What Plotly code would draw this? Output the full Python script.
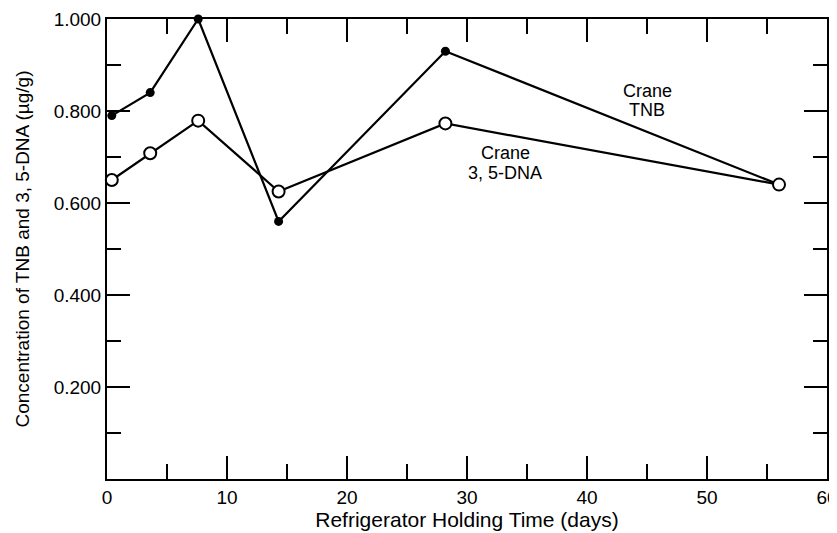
import plotly.graph_objects as go

days = [0.4, 3.6, 7.6, 14.3, 28.2, 56.0]
tnb = [0.79, 0.84, 1.0, 0.56, 0.93, 0.64]
dna = [0.65, 0.708, 0.779, 0.625, 0.773, 0.64]

x_ticks = [0, 10, 20, 30, 40, 50, 60]
y_ticks = [0.2, 0.4, 0.6, 0.8, 1.0]
y_labels = ["0.200", "0.400", "0.600", "0.800", "1.000"]

FONT = "Liberation Sans, Arial, Helvetica, sans-serif"
PAGE_OFFSET = 8  # default body margin of the html page

fig = go.Figure()
fig.add_trace(go.Scatter(
    x=days, y=tnb, mode="lines+markers", name="Crane TNB",
    line=dict(color="black", width=2.2),
    marker=dict(symbol="circle", size=9, color="black"),
    cliponaxis=False,
))
fig.add_trace(go.Scatter(
    x=days, y=dna, mode="lines+markers", name="Crane 3, 5-DNA",
    line=dict(color="black", width=2.2),
    marker=dict(symbol="circle", size=12, color="white", line=dict(color="black", width=2)),
    cliponaxis=False,
))

ann_font = dict(family=FONT, size=18, color="black")
fig.add_annotation(x=45, y=0.843, text="Crane", showarrow=False, font=ann_font)
fig.add_annotation(x=45, y=0.803, text="TNB", showarrow=False, font=ann_font)
fig.add_annotation(x=33.2, y=0.709, text="Crane", showarrow=False, font=ann_font)
fig.add_annotation(x=33.2, y=0.665, text="3, 5-DNA", showarrow=False, font=ann_font)

axis_common = dict(
    showgrid=False, zeroline=False, showline=True, linecolor="black", linewidth=2,
    ticks="inside", tickcolor="black", tickwidth=2, ticklen=23, mirror="ticks",
    tickfont=dict(family=FONT, size=19, color="black"), automargin=False,
    ticklabeloverflow="allow",
)

fig.update_xaxes(
    range=[0, 60], tickvals=x_ticks, ticktext=[str(v) for v in x_ticks],
    minor=dict(dtick=5, tick0=0, ticks="inside", ticklen=15, tickwidth=2, tickcolor="black"),
    title=dict(text="Refrigerator Holding Time (days)", font=dict(family=FONT, size=21, color="black"), standoff=0),
    **axis_common,
)
fig.update_yaxes(
    range=[0, 1.0], tickvals=y_ticks, ticktext=y_labels,
    minor=dict(dtick=0.1, tick0=0, ticks="inside", ticklen=14, tickwidth=2, tickcolor="black"),
    title=dict(text="Concentration of TNB and 3, 5-DNA (µg/g)", font=dict(family=FONT, size=19, color="black"), standoff=19),
    **axis_common,
)

fig.update_layout(
    width=837, height=533 - PAGE_OFFSET,
    margin=dict(l=107 - PAGE_OFFSET, r=10 + PAGE_OFFSET, t=19 - PAGE_OFFSET, b=54, autoexpand=False),
    paper_bgcolor="white", plot_bgcolor="white",
    showlegend=False,
)

fig.write_html("out.html")
